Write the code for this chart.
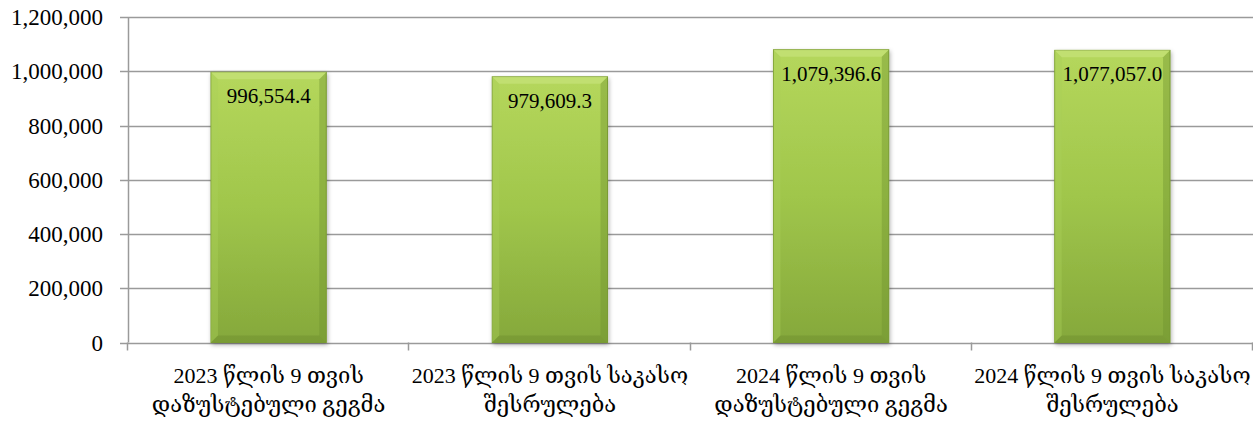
<!DOCTYPE html>
<html>
<head>
<meta charset="utf-8">
<script src="https://cdn.jsdelivr.net/npm/d3@7"></script>
<style>
	body { margin: 0; background: #fff; }
	svg { display: block; font-family: 'Liberation Serif', 'DejaVu Serif', serif; }
</style>
</head>
<body>
<div id="draw"></div>
<script>
const categories = [
	['2023 წლის 9 თვის', 'დაზუსტებული გეგმა'],
	['2023 წლის 9 თვის საკასო', 'შესრულება'],
	['2024 წლის 9 თვის', 'დაზუსტებული გეგმა'],
	['2024 წლის 9 თვის საკასო', 'შესრულება'],
];
const values = [996554.4, 979609.3, 1079396.6, 1077057.0];
const yTicks = [0, 200000, 400000, 600000, 800000, 1000000, 1200000];

var width = 1253,
	height = 423,
	margin = { top: 17, right: 0, bottom: 80, left: 128 };

var svg = d3
	.select('#draw')
	.append('svg')
	.attr('width', width)
	.attr('height', height);

var defs = svg.append('defs');
var grad = defs
	.append('linearGradient')
	.attr('id', 'barFill')
	.attr('x1', 0).attr('y1', 0).attr('x2', 0).attr('y2', 1);
grad.append('stop').attr('offset', '0%').attr('stop-color', '#b5d75c');
grad.append('stop').attr('offset', '50%').attr('stop-color', '#a0c64b');
grad.append('stop').attr('offset', '100%').attr('stop-color', '#85a83b');

var filter = defs.append('filter').attr('id', 'shadow').attr('x', '-10%').attr('y', '-10%').attr('width', '130%').attr('height', '130%');
filter.append('feDropShadow').attr('dx', 1).attr('dy', 2).attr('stdDeviation', 2).attr('flood-color', '#000').attr('flood-opacity', 0.3);

var x = d3
	.scaleBand()
	.domain(d3.range(categories.length))
	.range([margin.left, width - margin.right])
	.paddingInner(0.59)
	.paddingOuter(0.295);

var y = d3
	.scaleLinear()
	.domain([0, 1200000])
	.range([height - margin.bottom - 0.5, margin.top]);

// gridlines
svg
	.append('g')
	.selectAll('line')
	.data(yTicks)
	.enter()
	.append('line')
	.attr('x1', margin.left - 8)
	.attr('x2', width)
	.attr('y1', (d) => Math.round(y(d)) + 0.5)
	.attr('y2', (d) => Math.round(y(d)) + 0.5)
	.attr('stroke', '#9a9a9a')
	.attr('stroke-width', 1.5);

// y labels
svg
	.append('g')
	.selectAll('text')
	.data(yTicks)
	.enter()
	.append('text')
	.attr('x', margin.left - 25)
	.attr('y', (d) => y(d))
	.attr('dy', '0.35em')
	.attr('text-anchor', 'end')
	.style('font-size', '23px')
	.attr('fill', '#000')
	.text((d) => d3.format(',')(d));

// y axis line
svg
	.append('line')
	.attr('x1', margin.left + 0.5)
	.attr('x2', margin.left + 0.5)
	.attr('y1', y(1200000))
	.attr('y2', y(0))
	.attr('stroke', '#9a9a9a')
	.attr('stroke-width', 1.5);

// x tick marks at band boundaries
var step = x.step();
svg
	.append('g')
	.selectAll('line')
	.data(d3.range(categories.length + 1))
	.enter()
	.append('line')
	.attr('x1', (i) => Math.round(margin.left + i * step) - 0.5)
	.attr('x2', (i) => Math.round(margin.left + i * step) - 0.5)
	.attr('y1', y(0))
	.attr('y2', y(0) + 8)
	.attr('stroke', '#9a9a9a')
	.attr('stroke-width', 1.5);

// bars
var bars = svg.append('g');
bars
	.selectAll('rect.bar')
	.data(values)
	.enter()
	.append('rect')
	.attr('class', 'bar')
	.attr('x', (d, i) => x(i))
	.attr('y', (d) => y(d))
	.attr('width', x.bandwidth())
	.attr('height', (d) => y(0) - y(d))
	.attr('fill', 'url(#barFill)')
	.attr('stroke', '#7d9e35')
	.attr('stroke-width', 1)
	.attr('filter', 'url(#shadow)');

// bevel highlights
var bev = 7;
bars
	.selectAll('path.top')
	.data(values)
	.enter()
	.append('path')
	.attr('d', (d, i) => {
		var x0 = x(i), x1 = x(i) + x.bandwidth(), y0 = y(d);
		return 'M' + x0 + ',' + y0 + 'L' + x1 + ',' + y0 + 'L' + (x1 - bev) + ',' + (y0 + bev) + 'L' + (x0 + bev) + ',' + (y0 + bev) + 'Z';
	})
	.attr('fill', '#c6e27a')
	.attr('opacity', 0.7);
bars
	.selectAll('path.left')
	.data(values)
	.enter()
	.append('path')
	.attr('d', (d, i) => {
		var x0 = x(i), y0 = y(d), y1 = y(0);
		return 'M' + x0 + ',' + y0 + 'L' + (x0 + bev) + ',' + (y0 + bev) + 'L' + (x0 + bev) + ',' + (y1 - bev) + 'L' + x0 + ',' + y1 + 'Z';
	})
	.attr('fill', '#a9d05a')
	.attr('opacity', 0.4);
bars
	.selectAll('path.right')
	.data(values)
	.enter()
	.append('path')
	.attr('d', (d, i) => {
		var x1 = x(i) + x.bandwidth(), y0 = y(d), y1 = y(0);
		return 'M' + x1 + ',' + y0 + 'L' + (x1 - bev) + ',' + (y0 + bev) + 'L' + (x1 - bev) + ',' + (y1 - bev) + 'L' + x1 + ',' + y1 + 'Z';
	})
	.attr('fill', '#6f9030')
	.attr('opacity', 0.4);
bars
	.selectAll('path.bottom')
	.data(values)
	.enter()
	.append('path')
	.attr('d', (d, i) => {
		var x0 = x(i), x1 = x(i) + x.bandwidth(), y1 = y(0);
		return 'M' + x0 + ',' + y1 + 'L' + (x0 + bev) + ',' + (y1 - bev) + 'L' + (x1 - bev) + ',' + (y1 - bev) + 'L' + x1 + ',' + y1 + 'Z';
	})
	.attr('fill', '#6f9030')
	.attr('opacity', 0.5);

// value labels
svg
	.append('g')
	.selectAll('text')
	.data(values)
	.enter()
	.append('text')
	.attr('x', (d, i) => x(i) + x.bandwidth() / 2)
	.attr('y', (d) => y(d) + 31)
	.attr('text-anchor', 'middle')
	.style('font-size', '21px')
	.attr('fill', '#000')
	.text((d) => d3.format(',.1f')(d));

// category labels
var cat = svg
	.append('g')
	.selectAll('text')
	.data(categories)
	.enter()
	.append('text')
	.attr('x', (d, i) => x(i) + x.bandwidth() / 2)
	.attr('y', 383)
	.attr('text-anchor', 'middle')
	.style('font-size', '22px')
	.attr('fill', '#000');
cat
	.selectAll('tspan')
	.data((d) => d)
	.enter()
	.append('tspan')
	.attr('x', function () {
		return this.parentNode.getAttribute('x');
	})
	.attr('dy', (d, j) => (j === 0 ? 0 : 29))
	.text((d) => d);
</script>
</body>
</html>
